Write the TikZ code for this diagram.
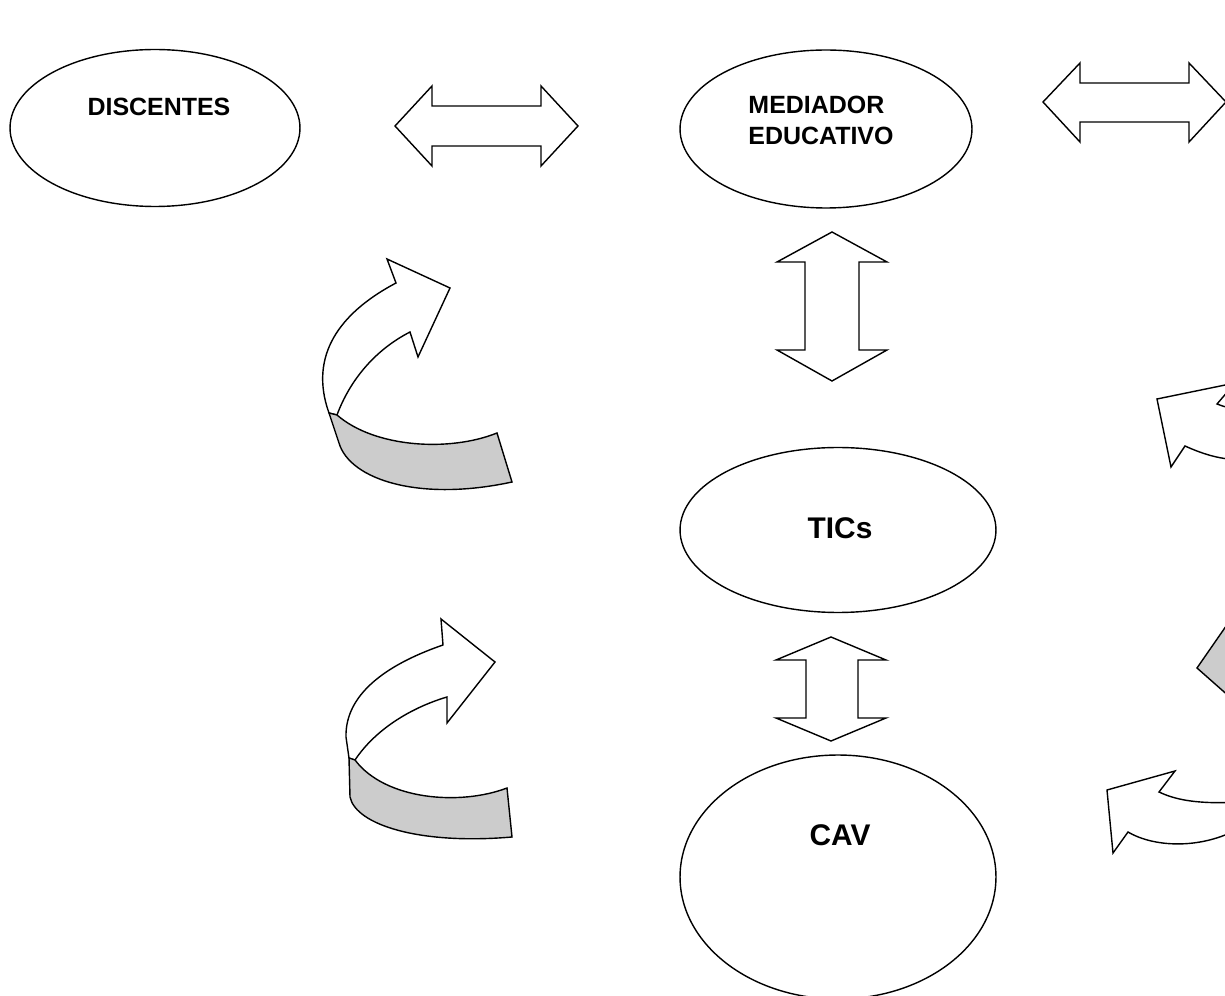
\documentclass[tikz,border=0pt]{standalone}
\usepackage{fontspec}
\setmainfont{Liberation Sans}
\usetikzlibrary{shapes.geometric}
\definecolor{foldgray}{RGB}{204,204,204}

\begin{document}
\begin{tikzpicture}[x=0.02cm, y=-0.02cm, line width=0.8pt,
    bubble/.style={draw, ellipse, inner sep=0pt},
    caption/.style={font=\fontsize{14.2}{17.6}\selectfont\bfseries, align=left},
    bigcaption/.style={font=\fontsize{17}{20}\selectfont\bfseries},
    blockarrow/.style={draw, fill=white},
    fold/.style={draw, fill=foldgray}]
    \clip (0,0) rectangle (1225,996);
    % ellipses
    \node[bubble, minimum width=5.8cm, minimum height=3.14cm] (discentes) at (155,128) {};
    \node[bubble, minimum width=5.84cm, minimum height=3.16cm] (mediador) at (826,129) {};
    \node[bubble, minimum width=6.32cm, minimum height=3.3cm] (tics) at (838,530) {};
    \node[bubble, minimum width=6.32cm, minimum height=4.88cm] (cav) at (838,877) {};
    \node[caption] at (159,107) {DISCENTES};
    \node[caption] at (821,120) {MEDIADOR\\EDUCATIVO};
    \node[bigcaption] at (840,528) {TICs};
    \node[bigcaption] at (840,835) {CAV};
    % double arrows
    \draw[blockarrow] (395,126) -- (432,86) -- (432,106) -- (541,106) -- (541,86) -- (578,126)
        -- (541,166) -- (541,146) -- (432,146) -- (432,166) -- cycle;
    \draw[blockarrow] (1043,102) -- (1080,63) -- (1080,83) -- (1189,83) -- (1189,63) -- (1226,102)
        -- (1189,142) -- (1189,122) -- (1080,122) -- (1080,142) -- cycle;
    \draw[blockarrow] (832,232) -- (887,262) -- (859,262) -- (859,350) -- (887,350) -- (832,381)
        -- (777,350) -- (805,350) -- (805,262) -- (777,262) -- cycle;
    \draw[blockarrow] (831,637) -- (886,660) -- (858,660) -- (858,718) -- (886,718) -- (831,741)
        -- (776,718) -- (806,718) -- (806,660) -- (776,660) -- cycle;
    % curved arrows, left
    \draw[blockarrow] (396,283) .. controls (345,310) and (310,350) .. (327,407) -- (329,413) -- (337,415)
        .. controls (350,380) and (375,350) .. (410,332) -- (418,357) -- (450,288) -- (387,259) -- cycle;
    \draw[fold] (329,413) -- (339,443) .. controls (350,480) and (420,502) .. (512,482) -- (497,433)
        .. controls (450,452) and (375,448) .. (337,415) -- cycle;
    \draw[blockarrow] (443,645) .. controls (385,665) and (345,695) .. (346,737) -- (349,758) -- (355,760)
        .. controls (375,730) and (410,708) .. (447,697) -- (447,723) -- (495,662) -- (441,619) -- cycle;
    \draw[fold] (349,758) -- (350,797) .. controls (356,825) and (420,845) .. (512,837) -- (507,788)
        .. controls (460,806) and (385,800) .. (355,760) -- cycle;
    % curved arrows, right (cut by the border)
    \draw (1245,410) .. controls (1228,408) .. (1217,404) -- (1235,383) -- (1157,399) -- (1171,467)
        -- (1185,446) .. controls (1205,455) and (1222,460) .. (1245,460);
    \draw[fold] (1240,606) -- (1197,668) -- (1240,706);
    \draw (1245,802) .. controls (1205,804) and (1180,802) .. (1159,792) -- (1175,771) -- (1107,790)
        -- (1113,853) -- (1128,832) .. controls (1155,848) and (1205,850) .. (1245,825);
\end{tikzpicture}
\end{document}
